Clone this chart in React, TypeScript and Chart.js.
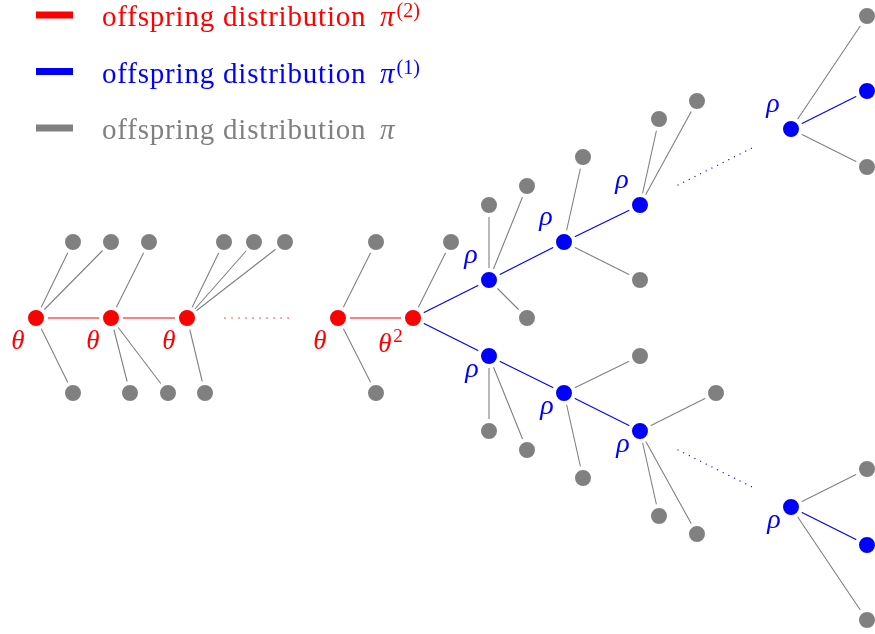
import React, { useEffect, useRef } from "react";
import { Chart, registerables } from "chart.js";

Chart.register(...registerables);

const W = 875;
const H = 634;

// Inner nodes of the tree: [id, x, y]
const redNodes: [string, number, number][] = [
  ["R1", 36, 318],
  ["R2", 111, 318],
  ["R3", 187, 318],
  ["R4", 338, 318],
  ["R5", 413, 318],
];

const blueNodes: [string, number, number][] = [
  ["B1", 489, 280],
  ["B2", 564, 242],
  ["B3", 640, 205],
  ["B4", 791, 129],
  ["B4a", 867, 91],
  ["B5", 489, 356],
  ["B6", 564, 393],
  ["B7", 640, 431],
  ["B8", 791, 507],
  ["B8a", 867, 545],
];

// Gray leaves: [parentId, x, y]
const grayLeaves: [string, number, number][] = [
  ["R1", 73, 242], ["R1", 111, 242], ["R1", 73, 393],
  ["R2", 149, 242], ["R2", 130, 393], ["R2", 168, 393],
  ["R3", 224, 242], ["R3", 254, 242], ["R3", 285, 242], ["R3", 205, 393],
  ["R4", 376, 242], ["R4", 376, 393],
  ["R5", 451, 242],
  ["B1", 489, 205], ["B1", 527, 186], ["B1", 527, 318],
  ["B2", 583, 157], ["B2", 640, 280],
  ["B3", 659, 119], ["B3", 697, 101],
  ["B4", 867, 16], ["B4", 867, 167],
  ["B5", 489, 431], ["B5", 527, 450],
  ["B6", 640, 356], ["B6", 583, 478],
  ["B7", 716, 393], ["B7", 659, 516], ["B7", 697, 534],
  ["B8", 867, 469], ["B8", 867, 620],
];

const redEdges: [string, string][] = [
  ["R1", "R2"],
  ["R2", "R3"],
  ["R4", "R5"],
];

const blueEdges: [string, string][] = [
  ["R5", "B1"], ["B1", "B2"], ["B2", "B3"],
  ["R5", "B5"], ["B5", "B6"], ["B6", "B7"],
  ["B4", "B4a"], ["B8", "B8a"],
];

// Dotted continuation lines: [x1, y1, x2, y2]
const redDotted: [number, number, number, number][] = [[225, 318, 295, 318]];
const blueDotted: [number, number, number, number][] = [
  [678, 185, 752, 148],
  [678, 450, 752, 487],
];

// Node labels
const thetaNodes = ["R1", "R2", "R3", "R4"];
const thetaSquaredNodes = ["R5"];
const rhoAboveNodes = ["B1", "B2", "B3", "B4"];
const rhoBelowNodes = ["B5", "B6", "B7", "B8"];

// Legend
const legendLabels = ["offspring distribution", "offspring distribution", "offspring distribution"];
const legendSuperscripts = ["(2)", "(1)", ""];

const RED = "#ff0000";
const BLUE = "#0000ff";
const GRAY = "#808080";
const legendColors = [RED, BLUE, GRAY];

const SERIF = "'Liberation Serif', serif";

export default function App() {
  const ref = useRef<HTMLCanvasElement | null>(null);

  useEffect(() => {
    document.body.style.margin = "0";
    const canvas = ref.current;
    if (!canvas) return;

    const pos: Record<string, { x: number; y: number }> = {};
    [...redNodes, ...blueNodes].forEach(([id, x, y]) => (pos[id] = { x, y }));

    const edgeDs = (a: { x: number; y: number }, b: { x: number; y: number }, color: string, width: number, dash?: number[]) => ({
      data: [a, b],
      showLine: true,
      borderColor: color,
      borderWidth: width,
      borderDash: dash || [],
      borderCapStyle: "round" as const,
      pointRadius: 0,
      order: 2,
      clip: false as const,
    });

    const datasets: any[] = [];
    grayLeaves.forEach(([p, x, y]) => datasets.push(edgeDs(pos[p], { x, y }, GRAY, 1.1)));
    redEdges.forEach(([a, b]) => datasets.push(edgeDs(pos[a], pos[b], RED, 1.2)));
    blueEdges.forEach(([a, b]) => datasets.push(edgeDs(pos[a], pos[b], BLUE, 1.2)));
    redDotted.forEach(([x1, y1, x2, y2]) =>
      datasets.push(edgeDs({ x: x1, y: y1 }, { x: x2, y: y2 }, RED, 1.3, [0.01, 7]))
    );
    blueDotted.forEach(([x1, y1, x2, y2]) =>
      datasets.push(edgeDs({ x: x1, y: y1 }, { x: x2, y: y2 }, BLUE, 1.3, [0.01, 6.3]))
    );

    const nodeDs = (pts: { x: number; y: number }[], color: string) => ({
      data: pts,
      showLine: false,
      pointRadius: 10,
      pointBackgroundColor: color,
      pointBorderColor: "#ffffff",
      pointBorderWidth: 4,
      order: 0,
      clip: false as const,
    });
    datasets.push(nodeDs(grayLeaves.map(([, x, y]) => ({ x, y })), GRAY));
    datasets.push(nodeDs(redNodes.map(([, x, y]) => ({ x, y })), RED));
    datasets.push(nodeDs(blueNodes.map(([, x, y]) => ({ x, y })), BLUE));

    const labelPlugin = {
      id: "labels",
      afterDraw(chart: any) {
        const ctx = chart.ctx as CanvasRenderingContext2D;
        const xs = chart.scales.x;
        const ys = chart.scales.y;
        const px = (id: string) => ({ x: xs.getPixelForValue(pos[id].x), y: ys.getPixelForValue(pos[id].y) });
        ctx.save();
        ctx.textAlign = "center";
        ctx.textBaseline = "alphabetic";
        ctx.font = `italic 27px ${SERIF}`;
        ctx.fillStyle = RED;
        thetaNodes.forEach((id) => {
          const p = px(id);
          ctx.fillText("θ", p.x - 18, p.y + 31);
        });
        thetaSquaredNodes.forEach((id) => {
          const p = px(id);
          ctx.font = `italic 27px ${SERIF}`;
          ctx.fillText("θ", p.x - 28, p.y + 34);
          ctx.font = `19px ${SERIF}`;
          ctx.fillText("2", p.x - 15, p.y + 24);
        });
        ctx.font = `italic 28px ${SERIF}`;
        ctx.fillStyle = BLUE;
        rhoAboveNodes.forEach((id) => {
          const p = px(id);
          ctx.fillText("ρ", p.x - 18, p.y - 17);
        });
        rhoBelowNodes.forEach((id) => {
          const p = px(id);
          ctx.fillText("ρ", p.x - 17, p.y + 21);
        });

        // Legend
        legendLabels.forEach((label, i) => {
          const cy = 15 + i * 56.5;
          const base = cy + 11;
          ctx.fillStyle = legendColors[i];
          ctx.fillRect(36, cy - 3.5, 37, 7);
          ctx.textAlign = "left";
          (ctx as any).letterSpacing = "0.8px";
          ctx.font = `29px ${SERIF}`;
          ctx.fillText(label, 102, base);
          (ctx as any).letterSpacing = "0px";
          ctx.font = `italic 29px ${SERIF}`;
          ctx.fillText("π", 380, base);
          const wp = ctx.measureText("π").width;
          if (legendSuperscripts[i]) {
            ctx.font = `20px ${SERIF}`;
            ctx.fillText(legendSuperscripts[i], 380 + wp + 2, base - 9);
          }
        });
        ctx.restore();
      },
    };

    let chart: Chart | null = null;
    let cancelled = false;
    const build = () => {
      if (cancelled) return;
      chart = new Chart(canvas, {
        type: "scatter",
        data: { datasets },
        options: {
          animation: false,
          responsive: false,
          events: [],
          layout: { padding: 0, autoPadding: false },
          plugins: { legend: { display: false }, tooltip: { enabled: false } },
          scales: {
            x: { type: "linear", min: 0, max: W, display: false },
            y: { type: "linear", min: 0, max: H, reverse: true, display: false },
          },
        },
        plugins: [labelPlugin],
      });
    };
    const fontsReady = (document as any).fonts
      ? Promise.all([
          (document as any).fonts.load(`27px 'Liberation Serif'`),
          (document as any).fonts.load(`italic 27px 'Liberation Serif'`),
        ]).catch(() => null)
      : Promise.resolve(null);
    fontsReady.then(build);
    return () => {
      cancelled = true;
      if (chart) chart.destroy();
    };
  }, []);

  return <canvas ref={ref} width={W} height={H} style={{ display: "block", width: W, height: H }} />;
}
